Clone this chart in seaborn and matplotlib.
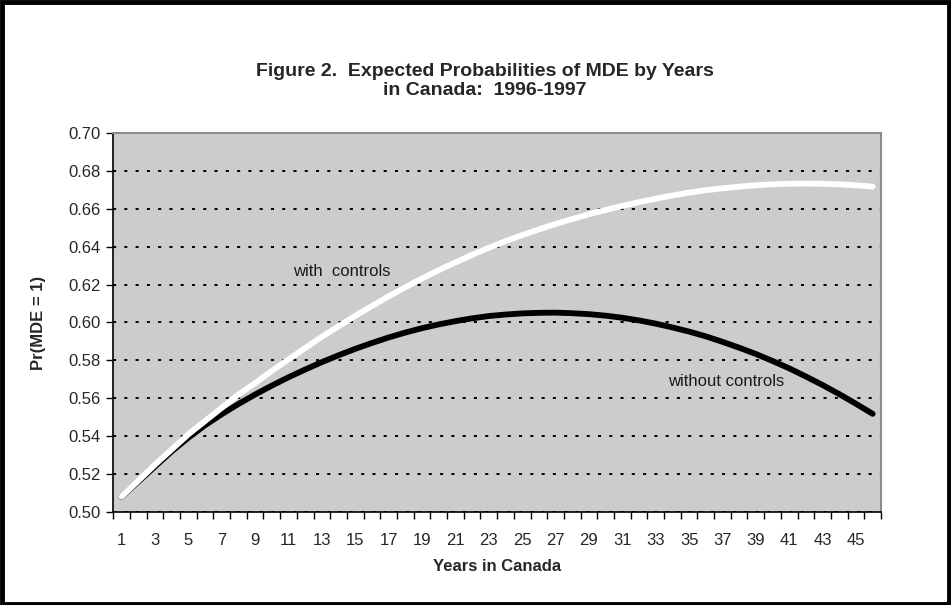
import numpy as np
import pandas as pd
import matplotlib
matplotlib.use("Agg")
import matplotlib.pyplot as plt
import seaborn as sns
from matplotlib.patches import Rectangle

# Years in Canada (category axis)
years = list(range(1, 47))

# Expected probabilities
with_controls = [
    0.5081, 0.5165, 0.5250, 0.5330, 0.5410, 0.5480, 0.5550, 0.5620, 0.5680, 0.5745,
    0.5805, 0.5865, 0.5925, 0.5980, 0.6035, 0.6087, 0.6138, 0.6186, 0.6232, 0.6276,
    0.6317, 0.6357, 0.6394, 0.6429, 0.6461, 0.6491, 0.6520, 0.6546, 0.6571, 0.6594,
    0.6615, 0.6635, 0.6653, 0.6670, 0.6685, 0.6698, 0.6708, 0.6717, 0.6724, 0.6729,
    0.6732, 0.6733, 0.6732, 0.6729, 0.6724, 0.6717,
]
without_controls = [
    0.5080, 0.5160, 0.5240, 0.5320, 0.5392, 0.5458, 0.5516, 0.5570, 0.5620, 0.5667,
    0.5711, 0.5752, 0.5791, 0.5827, 0.5861, 0.5892, 0.5921, 0.5947, 0.5970, 0.5990,
    0.6007, 0.6022, 0.6034, 0.6042, 0.6048, 0.6051, 0.6052, 0.6049, 0.6044, 0.6036,
    0.6025, 0.6011, 0.5994, 0.5974, 0.5952, 0.5927, 0.5898, 0.5867, 0.5834, 0.5797,
    0.5758, 0.5715, 0.5670, 0.5622, 0.5571, 0.5518,
]

y_ticks = [0.50, 0.52, 0.54, 0.56, 0.58, 0.60, 0.62, 0.64, 0.66, 0.68, 0.70]
x_labels = list(range(1, 46, 2))

df = pd.DataFrame({
    "year": years * 2,
    "prob": without_controls + with_controls,
    "series": ["without controls"] * len(years) + ["with controls"] * len(years),
})

sns.set_style("white")
plt.rcParams["font.family"] = ["Liberation Sans", "DejaVu Sans"]

fig = plt.figure(figsize=(9.51, 6.05), dpi=100)
ax = fig.add_axes([0.1191, 0.1537, 0.8073, 0.6265])
ax.set_facecolor("#CCCCCC")

sns.lineplot(data=df, x="year", y="prob", hue="series",
             palette={"without controls": "black", "with controls": "white"},
             hue_order=["without controls", "with controls"],
             linewidth=4.2, legend=False, ax=ax)

ax.set_xlim(0.5, 46.5)
ax.set_ylim(0.50, 0.70)

# y axis
ax.set_yticks(y_ticks)
ax.set_yticklabels([f"{v:.2f}" for v in y_ticks], fontsize=12)
ax.yaxis.grid(True, color="black", linestyle=(0, (1.6, 4.2)), linewidth=1.4)
ax.set_axisbelow(True)

# x axis: labels on categories, tick marks between categories
ax.set_xticks(x_labels)
ax.set_xticklabels([str(v) for v in x_labels], fontsize=12)
ax.set_xticks(np.arange(0.5, 47, 1.0), minor=True)
ax.tick_params(axis="x", which="major", length=0, pad=15)
ax.tick_params(axis="x", which="minor", length=5, width=1, color="black", direction="out", bottom=True)
ax.tick_params(axis="y", length=5, width=1, color="black", direction="out", left=True, pad=4)

for side in ["left", "bottom"]:
    ax.spines[side].set_color("black")
    ax.spines[side].set_linewidth(1.2)
for side in ["top", "right"]:
    ax.spines[side].set_visible(True)
    ax.spines[side].set_color("#8C8C8C")
    ax.spines[side].set_linewidth(1.5)

ax.set_xlabel("Years in Canada", fontsize=12, fontweight="bold", labelpad=8)
ax.set_ylabel("Pr(MDE = 1)", fontsize=12, fontweight="bold", labelpad=16)

ax.text(14.2, 0.627, "with  controls", fontsize=12, ha="center", va="center", color="#1a1a1a")
ax.text(37.2, 0.569, "without controls", fontsize=12, ha="center", va="center", color="#1a1a1a")

fig.text(0.51, 0.866, "Figure 2.  Expected Probabilities of MDE by Years\nin Canada:  1996-1997",
         ha="center", va="center", fontsize=14, fontweight="bold", linespacing=1.1)

# outer frame
fig.patches.append(Rectangle((0.002, 0.002), 0.996, 0.994, transform=fig.transFigure,
                             fill=False, edgecolor="black", linewidth=3.5))

fig.savefig("out.png", dpi=100)
